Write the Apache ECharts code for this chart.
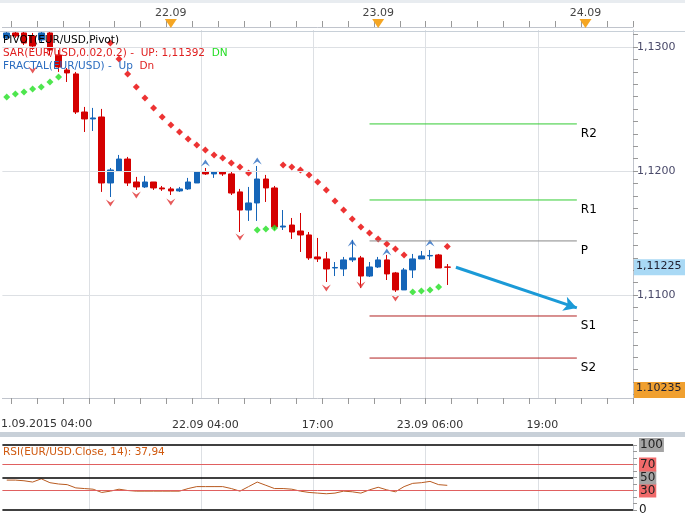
<!DOCTYPE html>
<html><head><meta charset="utf-8">
<script src="https://cdn.jsdelivr.net/npm/echarts@6/dist/echarts.min.js"></script>
<style>html,body{margin:0;padding:0;background:#fff}#c{width:685px;height:516px}</style>
</head><body><div id="c"></div>
<script>
// hourly categories: 21.09 05:00 ... (73 slots)
const hours = []; for (let h = 5; h < 78; h++) hours.push(h);
// candles [open, close, low, high]
const candles = [
[1.13073,1.13113,1.13057,1.13129],[1.13113,1.13089,1.13073,1.13129],[1.13113,1.13032,1.13016,1.13129],[1.13089,1.13008,1.12976,1.13113],
[1.13057,1.13113,1.13032,1.13129],[1.13113,1.12976,1.12936,1.13129],[1.12936,1.12839,1.12799,1.12976],[1.12815,1.12791,1.12718,1.12831],
[1.12783,1.12476,1.12460,1.12799],[1.12476,1.12420,1.12315,1.12517],[1.12420,1.12428,1.12323,1.12509],[1.12436,1.11904,1.11832,1.12501],
[1.11904,1.12009,1.11791,1.12025],[1.12001,1.12097,1.11993,1.12130],[1.12097,1.11904,1.11880,1.12114],[1.11912,1.11872,1.11848,1.11953],
[1.11872,1.11912,1.11864,1.11961],[1.11912,1.11864,1.11848,1.11912],[1.11864,1.11856,1.11840,1.11880],[1.11856,1.11840,1.11807,1.11872],
[1.11840,1.11856,1.11832,1.11872],[1.11856,1.11912,1.11848,1.11945],[1.11904,1.11993,1.11904,1.11993],[1.11993,1.11977,1.11969,1.12025],
[1.11977,1.11993,1.11945,1.11993],[1.11993,1.11977,1.11961,1.11993],[1.11977,1.11823,1.11807,1.11993],[1.11832,1.11686,1.11509,1.11856],
[1.11686,1.11743,1.11598,1.11872],[1.11743,1.11936,1.11598,1.12041],[1.11936,1.11864,1.11751,1.11969],[1.11864,1.11549,1.11525,1.11880],
[1.11549,1.11557,1.11525,1.11686],[1.11565,1.11509,1.11453,1.11622],[1.11517,1.11485,1.11348,1.11662],[1.11485,1.11300,1.11284,1.11509],
[1.11308,1.11292,1.11267,1.11461],[1.11292,1.11211,1.11106,1.11348],[1.11219,1.11223,1.11154,1.11267],[1.11211,1.11284,1.11154,1.11308],
[1.11284,1.11300,1.11267,1.11445],[1.11300,1.11154,1.11058,1.11316],[1.11154,1.11227,1.11146,1.11267],[1.11227,1.11284,1.11219,1.11308],
[1.11284,1.11171,1.11122,1.11324],[1.11179,1.11042,1.11026,1.11187],[1.11042,1.11203,1.11042,1.11219],[1.11203,1.11292,1.11138,1.11332],
[1.11292,1.11316,1.11292,1.11356],[1.11316,1.11320,1.11284,1.11364],[1.11324,1.11219,1.11219,1.11332],[1.11227,1.11225,1.11082,1.11251]
];
const _ = null;
const sarRed = [_,_,_,_,_,_,_,_,_,_,_,_,
1.13032,1.12903,1.12783,1.12678,1.12589,1.12509,1.12436,1.12372,1.12315,1.12259,1.12210,1.12170,1.12130,1.12106,1.12065,1.12033,1.11985,
_,_,_,
1.12049,1.12033,1.12009,1.11969,1.11912,1.11848,1.11759,1.11686,1.11614,1.11549,1.11501,1.11453,1.11412,1.11372,1.11324,
_,_,_,_,1.11392];
const sarGreen = [1.12597,1.12621,1.12637,1.12662,1.12678,1.12718,1.12758,_,_,_,_,_,
_,_,_,_,_,_,_,_,_,_,_,_,_,_,_,_,_,
1.11525,1.11533,1.11541,
_,_,_,_,_,_,_,_,_,_,_,_,_,_,_,
1.11026,1.11034,1.11042,1.11066,_];
const fractalDnIdx = [3,12,15,19,27,37,41,45];
const fractalDnVal = [1.12815,1.11743,1.11807,1.11751,1.11469,1.11058,1.11082,1.10977];
const fractalUpIdx = [23,29,40,44,49];
const fractalUpVal = [1.12065,1.12081,1.11420,1.11348,1.11420];
const pivotNames = ['R2','R1','P','S1','S2'];
const pivotVals = [1.12380,1.11767,1.11437,1.10832,1.10493];
const pivotColors = ['#33cc33','#33cc33','#888888','#b22222','#b22222'];
const pivotFrom = 42, pivotTo = 66;
const rsi = [46,46,45,43,48,42,40,39,34,33,32,27,29,32,30,29,29,29,29,29,29,33,36,36,36,36,33,29,36,43,38,33,33,32,29,27,26,25,26,29,28,26,31,35,31,28,36,41,42,44,39,37.94];
const bottomLabels = {28:'22.09 04:00',41:'17:00',54:'23.09 06:00',67:'19:00'};
const topLabels = {24:'22.09',48:'23.09',72:'24.09'};
const gridHours = [15,28,41,54,67];
const priceTicks = [1.11,1.12,1.13];
const lastPrice = 1.11225, lowPrice = 1.10235;

const F = 'DejaVu Sans';
const chart = echarts.init(document.getElementById('c'));
const isGrid = (i) => gridHours.includes(hours[i]);
const minorTicks = []; for (let v = 1102; v <= 1131; v++) minorTicks.push(v/1000);

const option = {
  animation:false,
  textStyle:{fontFamily:F},
  grid:[{left:2.4,right:52,top:30,bottom:118},{left:2.4,right:52,top:445,bottom:3}],
  xAxis:[
    {type:'category',data:hours,gridIndex:0,boundaryGap:true,
     axisLine:{show:true,lineStyle:{color:'#c0c4cc'}},
     axisTick:{show:true,interval:(i)=>hours[i]%3===0,length:6,lineStyle:{color:'#999'}},
     axisLabel:{show:true,interval:0,formatter:(v)=>bottomLabels[v]||'',color:'#333',fontSize:11,margin:22,fontFamily:F},
     splitLine:{show:true,interval:(i)=>isGrid(i),lineStyle:{color:'#dde0e4'}}},
    {type:'category',data:hours,gridIndex:0,position:'top',boundaryGap:true,offset:3,
     axisLine:{show:true,lineStyle:{color:'#c0c4cc'}},
     axisTick:{show:true,interval:(i)=>hours[i]%3===0,length:6,lineStyle:{color:'#999'}},
     axisLabel:{show:true,interval:0,formatter:(v)=>topLabels[v]||'',color:'#444',fontSize:11,margin:8,fontFamily:F}},
    {type:'category',data:hours,gridIndex:1,boundaryGap:true,
     axisLine:{show:false},axisTick:{show:false},axisLabel:{show:false},
     splitLine:{show:true,interval:(i)=>isGrid(i),lineStyle:{color:'#dde0e4'}}}
  ],
  yAxis:[
    {type:'value',gridIndex:0,position:'right',min:1.10171,max:1.13137,scale:true,
     axisLine:{show:true,lineStyle:{color:'#c0c4cc'}},
     axisTick:{show:true,customValues:minorTicks,length:5,lineStyle:{color:'#999'}},
     axisLabel:{customValues:priceTicks,formatter:(v)=>v.toFixed(4).replace('.',','),color:'#4a4a6a',fontSize:11,margin:4,fontFamily:F},
     splitLine:{show:false}},
    {type:'value',gridIndex:1,position:'right',min:0,max:100,
     axisLine:{show:true,lineStyle:{color:'#c0c4cc'}},
     axisTick:{show:true,customValues:[0,10,20,30,40,50,60,70,80,90,100],length:4,lineStyle:{color:'#999'}},
     axisLabel:{customValues:[0,30,50,70,100],fontSize:12,margin:6,fontFamily:F,color:'#222',
       formatter:(v)=>v===0?'{n|0}':(v===30||v===70)?'{r|'+v+'}':'{g|'+v+'}',
       rich:{n:{color:'#222'},r:{backgroundColor:'#f06a6a',color:'#222',padding:[1,1]},g:{backgroundColor:'#a4a4a4',color:'#222',padding:[1,1]}}},
     splitLine:{show:false}}
  ],
  series:[
    {type:'line',xAxisIndex:0,yAxisIndex:0,data:[],silent:true,
     markLine:{silent:true,symbol:'none',label:{show:false},lineStyle:{color:'#dde0e4',type:'solid',width:1},
       data:priceTicks.map(v=>({yAxis:v}))}},
    {type:'candlestick',xAxisIndex:0,yAxisIndex:0,barWidth:6,
     data:candles,
     itemStyle:{color:'#1565b8',color0:'#d40000',borderColor:'#1565b8',borderColor0:'#d40000',borderWidth:1}},
    {type:'scatter',xAxisIndex:0,yAxisIndex:0,symbol:'diamond',symbolSize:7,
     data:sarRed.map((v,i)=>[i,v]).filter(d=>d[1]!==null),itemStyle:{color:'#e80000'}},
    {type:'scatter',xAxisIndex:0,yAxisIndex:0,symbol:'diamond',symbolSize:7,
     data:sarGreen.map((v,i)=>[i,v]).filter(d=>d[1]!==null),itemStyle:{color:'#22e022'}},
    {type:'scatter',xAxisIndex:0,yAxisIndex:0,symbol:'path://M0,0 L5,7 L10,0 L5,3 Z',symbolSize:[9,7],
     data:fractalDnIdx.map((k,i)=>[k,fractalDnVal[i]]),itemStyle:{color:'#e03030'}},
    {type:'scatter',xAxisIndex:0,yAxisIndex:0,symbol:'path://M0,7 L5,0 L10,7 L5,4 Z',symbolSize:[9,7],
     data:fractalUpIdx.map((k,i)=>[k,fractalUpVal[i]]),itemStyle:{color:'#2a6cc0'}}
  ].concat(pivotVals.map((v,i)=>({
     type:'line',xAxisIndex:0,yAxisIndex:0,symbol:'none',silent:true,
     lineStyle:{color:pivotColors[i],width:1},
     data:[[pivotFrom,v],[pivotTo,v]],
     endLabel:{show:true,formatter:pivotNames[i],offset:[-4,10],color:'#000',fontSize:12,fontFamily:F}
  }))).concat([
    {type:'line',xAxisIndex:0,yAxisIndex:0,data:[],silent:true,
     markLine:{silent:true,symbol:['none','arrow'],symbolSize:[11,13],label:{show:false},
       lineStyle:{color:'#1b9ad7',width:3,type:'solid'},
       data:[[{coord:[52,lastPrice]},{coord:[66,1.10897]}]]}},
    {type:'line',xAxisIndex:2,yAxisIndex:1,data:rsi.map((v,i)=>[i,v]),symbol:'none',
     lineStyle:{color:'#b85a20',width:1},
     markLine:{silent:true,symbol:'none',label:{show:false},
       data:[{yAxis:100,lineStyle:{color:'#000',width:1.5,type:'solid'}},
             {yAxis:70,lineStyle:{color:'#e06060',width:1,type:'solid'}},
             {yAxis:50,lineStyle:{color:'#000',width:1.5,type:'solid'}},
             {yAxis:30,lineStyle:{color:'#e06060',width:1,type:'solid'}},
             {yAxis:0,lineStyle:{color:'#000',width:1.5,type:'solid'}}]}}
  ])
};
chart.setOption(option);

const p = (k,v)=>chart.convertToPixel({xAxisIndex:0,yAxisIndex:0},[k,v]);
const yLast = p(0,lastPrice)[1], yLow = p(0,lowPrice)[1];
const tri = Object.keys(topLabels).map(h=>{
  const x = p(hours.indexOf(+h),lowPrice)[0];
  return {type:'polygon',shape:{points:[[x-6,19],[x+6,19],[x,28]]},style:{fill:'#f5a623'},z:20};
});
chart.setOption({graphic:[
  {type:'rect',shape:{x:0,y:31,width:685,height:1},style:{fill:'#c8d0d8'},z:10},
  {type:'rect',shape:{x:0,y:432,width:685,height:5},style:{fill:'#c8d0d8'},z:10},
  {type:'rect',shape:{x:0,y:0,width:685,height:3},style:{fill:'#e8ecf0'},z:10},
  {type:'text',left:-6,top:419,style:{text:'21.09.2015 04:00',fill:'#333',font:'11px "DejaVu Sans"'},z:20},
  {type:'text',left:3,top:35,style:{text:'PIVOT(EUR/USD,Pivot)',fill:'#000',font:'10.5px "DejaVu Sans"'},z:20},
  {type:'text',left:3,top:48,style:{text:'{a|SAR(EUR/USD,0.02,0.2) -  UP: 1,11392}  {b|DN}',font:'10.5px "DejaVu Sans"',
     rich:{a:{fill:'#e02020',font:'10.5px "DejaVu Sans"'},b:{fill:'#22dd22',font:'10.5px "DejaVu Sans"'}}},z:20},
  {type:'text',left:3,top:61,style:{text:'{a|FRACTAL(EUR/USD) -  Up}  {b|Dn}',font:'10.5px "DejaVu Sans"',
     rich:{a:{fill:'#2a6cc0',font:'10.5px "DejaVu Sans"'},b:{fill:'#e02020',font:'10.5px "DejaVu Sans"'}}},z:20},
  {type:'text',left:3,top:447,style:{text:'RSI(EUR/USD.Close, 14): 37,94',fill:'#d05a10',font:'10.5px "DejaVu Sans"'},z:20},
  {type:'rect',shape:{x:634,y:yLast-8,width:51,height:16},style:{fill:'#a9d9f5'},z:20},
  {type:'text',left:636,top:yLast-7,style:{text:lastPrice.toFixed(5).replace('.',','),fill:'#223',font:'11px "DejaVu Sans"'},z:21},
  {type:'rect',shape:{x:634,y:yLow-8,width:51,height:16},style:{fill:'#f0a030'},z:20},
  {type:'text',left:636,top:yLow-7,style:{text:lowPrice.toFixed(5),fill:'#223',font:'11px "DejaVu Sans"'},z:21}
].concat(tri)});
</script></body></html>
